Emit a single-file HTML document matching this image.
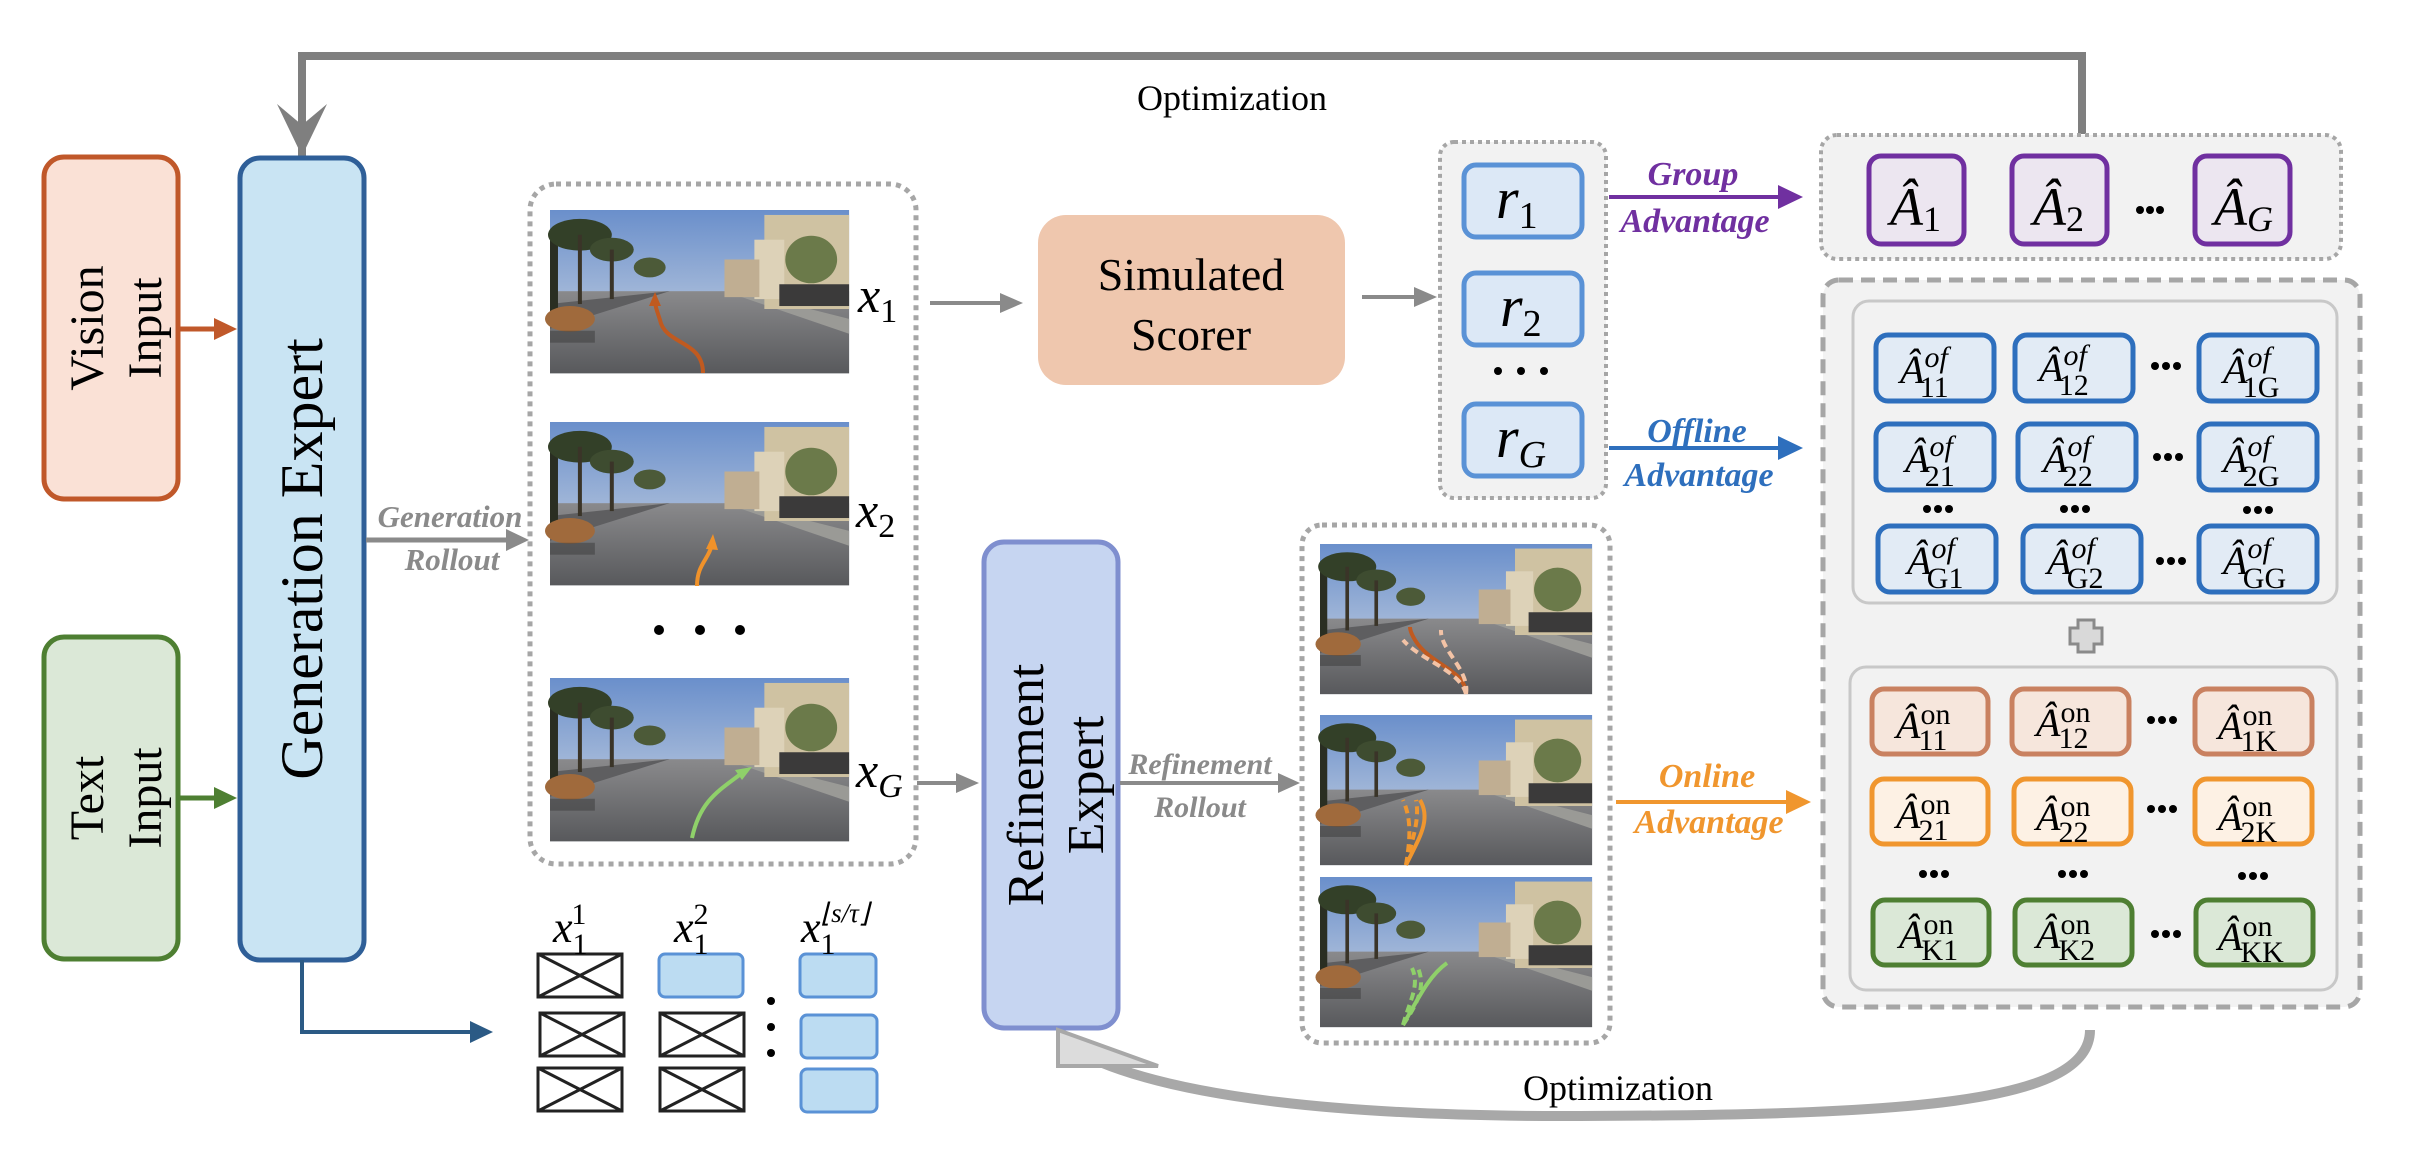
<!DOCTYPE html>
<html><head><meta charset="utf-8"><style>
html,body{margin:0;padding:0;background:#fff}
svg{display:block}
.sr{font-family:"Liberation Serif",serif}
.mi{font-family:"Liberation Serif",serif;font-style:italic}
.lab{font-family:"Liberation Serif",serif;font-style:italic;font-weight:bold}
</style></head><body>
<svg width="2416" height="1164" viewBox="0 0 2416 1164" xmlns="http://www.w3.org/2000/svg">
<defs>
<linearGradient id="sky" x1="0" y1="0" x2="0" y2="1"><stop offset="0" stop-color="#6a8fcb"/><stop offset="1" stop-color="#d4dbe4"/></linearGradient>
<linearGradient id="road" x1="0" y1="0" x2="0" y2="1"><stop offset="0" stop-color="#8a8a8c"/><stop offset="1" stop-color="#58595c"/></linearGradient>
<g id="st">
<rect x="0" y="0" width="300" height="165" fill="url(#sky)"/>
<rect x="0" y="82" width="300" height="83" fill="url(#road)"/>
<polygon points="0,95 120,82 0,120" fill="#5e5e60"/>
<polygon points="190,82 300,110 300,125 175,82" fill="#9a9a96"/>
<rect x="215" y="5" width="85" height="95" fill="#cfc2a2"/>
<rect x="205" y="30" width="30" height="60" fill="#ddd2b8"/>
<rect x="175" y="50" width="35" height="38" fill="#c0ae92"/>
<rect x="230" y="75" width="70" height="22" fill="#3b3a3a"/>
<rect x="0" y="20" width="8" height="85" fill="#2a2e22"/>
<ellipse cx="30" cy="25" rx="32" ry="16" fill="#334028"/>
<rect x="28" y="25" width="4" height="70" fill="#3a3428"/>
<ellipse cx="62" cy="40" rx="22" ry="12" fill="#3e4c30"/>
<rect x="60" y="40" width="4" height="50" fill="#3a3428"/>
<ellipse cx="100" cy="58" rx="16" ry="10" fill="#4c5a38"/>
<ellipse cx="262" cy="50" rx="26" ry="24" fill="#6b7a4a"/>
<ellipse cx="20" cy="110" rx="25" ry="13" fill="#a06a3c"/>
<rect x="0" y="122" width="45" height="12" fill="#3a3a3a" opacity="0.5"/>
</g>
</defs>

<polyline points="302,157 302,56 2082,56 2082,134" fill="none" stroke="#7f7f7f" stroke-width="8"/>
<polygon points="277,104 302,125 327,104 302,156" fill="#7f7f7f"/>
<text x="1232" y="110" class="sr" font-size="36" text-anchor="middle">Optimization</text>

<rect x="44" y="157" width="134" height="342" rx="20" fill="#fae1d6" stroke="#c0582a" stroke-width="5"/>
<text transform="translate(111,328) rotate(-90)" class="sr" font-size="48" text-anchor="middle"><tspan x="0" dy="-8">Vision</tspan><tspan x="0" dy="58">Input</tspan></text>
<rect x="44" y="637" width="134" height="322" rx="20" fill="#dbe8d7" stroke="#4e7f32" stroke-width="5"/>
<text transform="translate(111,798) rotate(-90)" class="sr" font-size="48" text-anchor="middle"><tspan x="0" dy="-8">Text</tspan><tspan x="0" dy="58">Input</tspan></text>
<line x1="178" y1="329" x2="218" y2="329" stroke="#c0582a" stroke-width="5"/><polygon points="214,318 237,329 214,340" fill="#c0582a"/>
<line x1="178" y1="798" x2="218" y2="798" stroke="#4e7f32" stroke-width="5"/><polygon points="214,787 237,798 214,809" fill="#4e7f32"/>

<rect x="240" y="158" width="124" height="802" rx="20" fill="#c9e4f3" stroke="#2f5f98" stroke-width="5"/>
<text transform="translate(322,559) rotate(-90)" class="sr" font-size="60" text-anchor="middle">Generation Expert</text>

<line x1="366" y1="540" x2="510" y2="540" stroke="#8a8a8a" stroke-width="5"/><polygon points="506,529 529,540 506,551" fill="#8a8a8a"/>
<text x="450" y="527" class="lab" font-size="31" fill="#8a8a8a" text-anchor="middle">Generation</text>
<text x="452" y="570" class="lab" font-size="31" fill="#8a8a8a" text-anchor="middle">Rollout</text>

<rect x="530" y="184" width="386" height="680" rx="26" fill="none" stroke="#a6a6a6" stroke-width="5" stroke-dasharray="5,5"/>
<use href="#st" transform="translate(550,210) scale(0.997,0.99)"/>
<use href="#st" transform="translate(550,422) scale(0.997,0.99)"/>
<use href="#st" transform="translate(550,678) scale(0.997,0.99)"/>
<path d="M703,373 C703,340 665,345 660,320 C656,308 655,305 655,300" fill="none" stroke="#c05a20" stroke-width="4"/><polygon points="649,306 655,292 661,306" fill="#c05a20"/>
<path d="M697,586 C697,565 708,560 712,545" fill="none" stroke="#f0922a" stroke-width="4"/><polygon points="706,549 713,534 718,550" fill="#f0922a"/>
<path d="M692,838 C700,800 720,790 742,773" fill="none" stroke="#8fd06a" stroke-width="4"/><polygon points="735,770 752,767 742,780" fill="#8fd06a"/>
<text x="858" y="312" class="mi" font-size="50">x<tspan font-size="34" dy="10" font-style="normal">1</tspan></text>
<text x="856" y="527" class="mi" font-size="50">x<tspan font-size="34" dy="10" font-style="normal">2</tspan></text>
<text x="856" y="787" class="mi" font-size="50">x<tspan font-size="34" dy="10">G</tspan></text>
<circle cx="659" cy="630" r="5"/><circle cx="700" cy="630" r="5"/><circle cx="740" cy="630" r="5"/>

<line x1="930" y1="303" x2="1004" y2="303" stroke="#8a8a8a" stroke-width="4"/><polygon points="1000,293 1023,303 1000,313" fill="#8a8a8a"/>

<rect x="1038" y="215" width="307" height="170" rx="28" fill="#efc7ae"/>
<text x="1191" y="290" class="sr" font-size="46" text-anchor="middle">Simulated</text>
<text x="1191" y="350" class="sr" font-size="46" text-anchor="middle">Scorer</text>
<line x1="1362" y1="297" x2="1418" y2="297" stroke="#8a8a8a" stroke-width="4"/><polygon points="1414,287 1437,297 1414,307" fill="#8a8a8a"/>

<rect x="1440" y="142" width="166" height="356" rx="14" fill="#f2f2f2" stroke="#a6a6a6" stroke-width="4" stroke-dasharray="4,4"/>
<rect x="1464" y="165" width="118" height="72" rx="12" fill="#dce8f6" stroke="#5a92d6" stroke-width="5"/>
<rect x="1464" y="273" width="118" height="72" rx="12" fill="#dce8f6" stroke="#5a92d6" stroke-width="5"/>
<rect x="1464" y="404" width="118" height="72" rx="12" fill="#dce8f6" stroke="#5a92d6" stroke-width="5"/>
<text x="1496" y="218" class="mi" font-size="58">r<tspan font-size="38" dy="10" font-style="normal">1</tspan></text>
<text x="1500" y="326" class="mi" font-size="58">r<tspan font-size="38" dy="10" font-style="normal">2</tspan></text>
<text x="1496" y="457" class="mi" font-size="58">r<tspan font-size="38" dy="10">G</tspan></text>
<circle cx="1498" cy="371" r="4"/><circle cx="1521" cy="371" r="4"/><circle cx="1544" cy="371" r="4"/>

<line x1="1609" y1="197" x2="1782" y2="197" stroke="#7030a0" stroke-width="4"/><polygon points="1778,185 1803,197 1778,209" fill="#7030a0"/>
<text x="1693" y="185" class="lab" font-size="34" fill="#7030a0" text-anchor="middle">Group</text>
<text x="1695" y="232" class="lab" font-size="34" fill="#7030a0" text-anchor="middle">Advantage</text>
<line x1="1609" y1="448" x2="1782" y2="448" stroke="#2e6fbd" stroke-width="4"/><polygon points="1778,436 1803,448 1778,460" fill="#2e6fbd"/>
<text x="1697" y="442" class="lab" font-size="34" fill="#2e6fbd" text-anchor="middle">Offline</text>
<text x="1699" y="486" class="lab" font-size="34" fill="#2e6fbd" text-anchor="middle">Advantage</text>
<line x1="1616" y1="802" x2="1790" y2="802" stroke="#f0962e" stroke-width="4"/><polygon points="1786,790 1811,802 1786,814" fill="#f0962e"/>
<text x="1707" y="787" class="lab" font-size="34" fill="#f0962e" text-anchor="middle">Online</text>
<text x="1709" y="833" class="lab" font-size="34" fill="#f0962e" text-anchor="middle">Advantage</text>

<rect x="1821" y="135" width="520" height="124" rx="16" fill="#f2f2f2" stroke="#a6a6a6" stroke-width="4" stroke-dasharray="4,4"/>
<g fill="#ece6f0" stroke="#7030a0" stroke-width="5">
<rect x="1869" y="156" width="95" height="88" rx="12"/><rect x="2012" y="156" width="95" height="88" rx="12"/><rect x="2195" y="156" width="95" height="88" rx="12"/></g>
<text x="1890" y="225" class="mi" font-size="54">Â<tspan font-size="36" dy="6" font-style="normal">1</tspan></text>
<text x="2033" y="225" class="mi" font-size="54">Â<tspan font-size="36" dy="6" font-style="normal">2</tspan></text>
<text x="2214" y="225" class="mi" font-size="54">Â<tspan font-size="36" dy="6">G</tspan></text>
<circle cx="2140" cy="210" r="4"/><circle cx="2150" cy="210" r="4"/><circle cx="2160" cy="210" r="4"/>

<rect x="1823" y="280" width="537" height="727" rx="16" fill="#f2f2f2" stroke="#a6a6a6" stroke-width="5" stroke-dasharray="14,8"/>
<rect x="1853" y="301" width="484" height="302" rx="16" fill="#f2f2f2" stroke="#c8c8c8" stroke-width="3"/>
<rect x="1850" y="667" width="487" height="323" rx="16" fill="#f2f2f2" stroke="#c8c8c8" stroke-width="3"/>
<path d="M2078,620 h16 v8 h8 v16 h-8 v8 h-16 v-8 h-8 v-16 h8 z" fill="#d9d9d9" stroke="#8a8a8a" stroke-width="3"/>

<g fill="#e2ebf5" stroke="#2e6fbd" stroke-width="5">
<rect x="1876" y="335" width="118" height="66" rx="12"/><rect x="2015" y="335" width="118" height="66" rx="12"/><rect x="2199" y="335" width="118" height="66" rx="12"/>
<rect x="1876" y="424" width="118" height="66" rx="12"/><rect x="2018" y="424" width="118" height="66" rx="12"/><rect x="2199" y="424" width="118" height="66" rx="12"/>
<rect x="1878" y="526" width="118" height="66" rx="12"/><rect x="2023" y="526" width="118" height="66" rx="12"/><rect x="2199" y="526" width="118" height="66" rx="12"/>
</g>
<g class="mi" font-size="40">
<text x="1900" y="383">Â<tspan font-size="30" dy="-16">of</tspan><tspan font-size="30" dx="-28" dy="30" font-style="normal">11</tspan></text>
<text x="2039" y="381">Â<tspan font-size="30" dy="-16">of</tspan><tspan font-size="30" dx="-28" dy="30" font-style="normal">12</tspan></text>
<text x="2223" y="383">Â<tspan font-size="30" dy="-16">of</tspan><tspan font-size="30" dx="-28" dy="30" font-style="normal">1G</tspan></text>
<text x="1905" y="472">Â<tspan font-size="30" dy="-16">of</tspan><tspan font-size="30" dx="-28" dy="30" font-style="normal">21</tspan></text>
<text x="2043" y="472">Â<tspan font-size="30" dy="-16">of</tspan><tspan font-size="30" dx="-28" dy="30" font-style="normal">22</tspan></text>
<text x="2223" y="472">Â<tspan font-size="30" dy="-16">of</tspan><tspan font-size="30" dx="-28" dy="30" font-style="normal">2G</tspan></text>
<text x="1907" y="574">Â<tspan font-size="30" dy="-16">of</tspan><tspan font-size="30" dx="-28" dy="30" font-style="normal">G1</tspan></text>
<text x="2047" y="574">Â<tspan font-size="30" dy="-16">of</tspan><tspan font-size="30" dx="-28" dy="30" font-style="normal">G2</tspan></text>
<text x="2223" y="574">Â<tspan font-size="30" dy="-16">of</tspan><tspan font-size="30" dx="-28" dy="30" font-style="normal">GG</tspan></text>
</g>

<g fill="#f6e6dc" stroke="#c98160" stroke-width="5">
<rect x="1872" y="689" width="116" height="65" rx="12"/><rect x="2012" y="689" width="117" height="65" rx="12"/><rect x="2195" y="689" width="117" height="65" rx="12"/></g>
<g fill="#fdf1e4" stroke="#f0962e" stroke-width="5">
<rect x="1872" y="779" width="116" height="65" rx="12"/><rect x="2014" y="779" width="117" height="65" rx="12"/><rect x="2195" y="779" width="117" height="65" rx="12"/></g>
<g fill="#dbe8d7" stroke="#4e7f32" stroke-width="5">
<rect x="1873" y="900" width="116" height="65" rx="12"/><rect x="2015" y="900" width="117" height="65" rx="12"/><rect x="2196" y="900" width="117" height="65" rx="12"/></g>
<g class="mi" font-size="40">
<text x="1896" y="738">Â<tspan font-size="30" dy="-14" font-style="normal">on</tspan><tspan font-size="30" dx="-32" dy="26" font-style="normal">11</tspan></text>
<text x="2036" y="736">Â<tspan font-size="30" dy="-14" font-style="normal">on</tspan><tspan font-size="30" dx="-32" dy="26" font-style="normal">12</tspan></text>
<text x="2218" y="739">Â<tspan font-size="30" dy="-14" font-style="normal">on</tspan><tspan font-size="30" dx="-32" dy="26" font-style="normal">1K</tspan></text>
<text x="1896" y="828">Â<tspan font-size="30" dy="-14" font-style="normal">on</tspan><tspan font-size="30" dx="-32" dy="26" font-style="normal">21</tspan></text>
<text x="2036" y="830">Â<tspan font-size="30" dy="-14" font-style="normal">on</tspan><tspan font-size="30" dx="-32" dy="26" font-style="normal">22</tspan></text>
<text x="2218" y="830">Â<tspan font-size="30" dy="-14" font-style="normal">on</tspan><tspan font-size="30" dx="-32" dy="26" font-style="normal">2K</tspan></text>
<text x="1899" y="948">Â<tspan font-size="30" dy="-14" font-style="normal">on</tspan><tspan font-size="30" dx="-32" dy="26" font-style="normal">K1</tspan></text>
<text x="2036" y="948">Â<tspan font-size="30" dy="-14" font-style="normal">on</tspan><tspan font-size="30" dx="-32" dy="26" font-style="normal">K2</tspan></text>
<text x="2218" y="950">Â<tspan font-size="30" dy="-14" font-style="normal">on</tspan><tspan font-size="30" dx="-32" dy="26" font-style="normal">KK</tspan></text>
</g>
<g fill="#000">
<circle cx="2155" cy="366" r="4"/><circle cx="2166" cy="366" r="4"/><circle cx="2177" cy="366" r="4"/>
<circle cx="2157" cy="457" r="4"/><circle cx="2168" cy="457" r="4"/><circle cx="2179" cy="457" r="4"/>
<circle cx="2160" cy="561" r="4"/><circle cx="2171" cy="561" r="4"/><circle cx="2182" cy="561" r="4"/>
<circle cx="1927" cy="509" r="4"/><circle cx="1938" cy="509" r="4"/><circle cx="1949" cy="509" r="4"/>
<circle cx="2064" cy="509" r="4"/><circle cx="2075" cy="509" r="4"/><circle cx="2086" cy="509" r="4"/>
<circle cx="2247" cy="510" r="4"/><circle cx="2258" cy="510" r="4"/><circle cx="2269" cy="510" r="4"/>
<circle cx="2151" cy="720" r="4"/><circle cx="2162" cy="720" r="4"/><circle cx="2173" cy="720" r="4"/>
<circle cx="2151" cy="809" r="4"/><circle cx="2162" cy="809" r="4"/><circle cx="2173" cy="809" r="4"/>
<circle cx="2155" cy="934" r="4"/><circle cx="2166" cy="934" r="4"/><circle cx="2177" cy="934" r="4"/>
<circle cx="1923" cy="874" r="4"/><circle cx="1934" cy="874" r="4"/><circle cx="1945" cy="874" r="4"/>
<circle cx="2062" cy="874" r="4"/><circle cx="2073" cy="874" r="4"/><circle cx="2084" cy="874" r="4"/>
<circle cx="2242" cy="876" r="4"/><circle cx="2253" cy="876" r="4"/><circle cx="2264" cy="876" r="4"/>
</g>

<line x1="917" y1="783" x2="960" y2="783" stroke="#8a8a8a" stroke-width="4"/><polygon points="956,773 979,783 956,793" fill="#8a8a8a"/>
<rect x="984" y="542" width="134" height="486" rx="20" fill="#c6d5f1" stroke="#7f8fcf" stroke-width="5"/>
<text transform="translate(1051,785) rotate(-90)" class="sr" font-size="52" text-anchor="middle"><tspan x="0" dy="-8">Refinement</tspan><tspan x="0" dy="60">Expert</tspan></text>
<line x1="1120" y1="783" x2="1282" y2="783" stroke="#8a8a8a" stroke-width="4"/><polygon points="1278,773 1300,783 1278,793" fill="#8a8a8a"/>
<text x="1200" y="774" class="lab" font-size="30" fill="#8a8a8a" text-anchor="middle">Refinement</text>
<text x="1200" y="817" class="lab" font-size="30" fill="#8a8a8a" text-anchor="middle">Rollout</text>

<rect x="1302" y="525" width="308" height="518" rx="20" fill="none" stroke="#a6a6a6" stroke-width="5" stroke-dasharray="5,5"/>
<use href="#st" transform="translate(1320,544) scale(0.907,0.91)"/>
<use href="#st" transform="translate(1320,715) scale(0.907,0.91)"/>
<use href="#st" transform="translate(1320,877) scale(0.907,0.91)"/>
<g fill="none" stroke-width="4">
<path d="M1466,694 C1466,670 1430,665 1415,640 C1412,635 1410,630 1410,627" stroke="#c05a20"/>
<path d="M1466,694 C1460,670 1420,660 1403,640" stroke="#f3c3a6" stroke-dasharray="8,5"/>
<path d="M1466,694 C1470,670 1440,650 1441,630" stroke="#f3c3a6" stroke-dasharray="8,5"/>
<path d="M1406,865 C1410,840 1412,820 1403,800" stroke="#f0962e" stroke-dasharray="8,5"/>
<path d="M1406,865 C1412,840 1420,820 1416,800" stroke="#f0962e" stroke-dasharray="8,5"/>
<path d="M1406,865 C1418,840 1432,820 1420,800" stroke="#f0962e"/>
<path d="M1403,1025 C1410,1000 1420,985 1412,968" stroke="#8fd06a" stroke-dasharray="8,5"/>
<path d="M1403,1025 C1420,1000 1425,985 1418,968" stroke="#8fd06a" stroke-dasharray="8,5"/>
<path d="M1403,1025 C1420,995 1430,975 1447,963" stroke="#8fd06a"/>
</g>

<path d="M2090,1030 C2090,1105 1900,1115 1580,1116 C1330,1117 1180,1095 1100,1062" fill="none" stroke="#a8a8a8" stroke-width="10"/>
<polygon points="1058,1030 1158,1066 1120,1066 1058,1066" fill="#dcdcdc" stroke="#a8a8a8" stroke-width="4"/>
<text x="1618" y="1100" class="sr" font-size="36" text-anchor="middle">Optimization</text>

<polyline points="302,960 302,1032 475,1032" fill="none" stroke="#2b5a85" stroke-width="4"/>
<polygon points="470,1021 493,1032 470,1043" fill="#2b5a85"/>

<g fill="#fff" stroke="#222" stroke-width="3">
<rect x="538" y="954" width="84" height="43"/><line x1="538" y1="954" x2="622" y2="997"/><line x1="622" y1="954" x2="538" y2="997"/>
<rect x="540" y="1013" width="84" height="43"/><line x1="540" y1="1013" x2="624" y2="1056"/><line x1="624" y1="1013" x2="540" y2="1056"/>
<rect x="538" y="1068" width="84" height="43"/><line x1="538" y1="1068" x2="622" y2="1111"/><line x1="622" y1="1068" x2="538" y2="1111"/>
<rect x="660" y="1013" width="84" height="43"/><line x1="660" y1="1013" x2="744" y2="1056"/><line x1="744" y1="1013" x2="660" y2="1056"/>
<rect x="660" y="1068" width="84" height="43"/><line x1="660" y1="1068" x2="744" y2="1111"/><line x1="744" y1="1068" x2="660" y2="1111"/>
</g>
<g fill="#bcdcf2" stroke="#5a92d6" stroke-width="3">
<rect x="659" y="954" width="84" height="43" rx="6"/>
<rect x="800" y="954" width="76" height="43" rx="6"/>
<rect x="801" y="1015" width="76" height="43" rx="6"/>
<rect x="801" y="1069" width="76" height="43" rx="6"/>
</g>
<circle cx="771" cy="1001" r="4"/><circle cx="771" cy="1027" r="4"/><circle cx="771" cy="1053" r="4"/>
<text x="553" y="942" class="mi" font-size="44">x<tspan font-size="30" font-style="normal" dy="12">1</tspan><tspan font-size="30" font-style="normal" dx="-15" dy="-30">1</tspan></text>
<text x="674" y="942" class="mi" font-size="44">x<tspan font-size="30" font-style="normal" dy="12">1</tspan><tspan font-size="30" font-style="normal" dx="-15" dy="-30">2</tspan></text>
<text x="801" y="942" class="mi" font-size="44">x<tspan font-size="30" font-style="normal" dy="12">1</tspan><tspan font-size="27" dx="-15" dy="-32">⌊s/τ⌋</tspan></text>
</svg>
</body></html>
